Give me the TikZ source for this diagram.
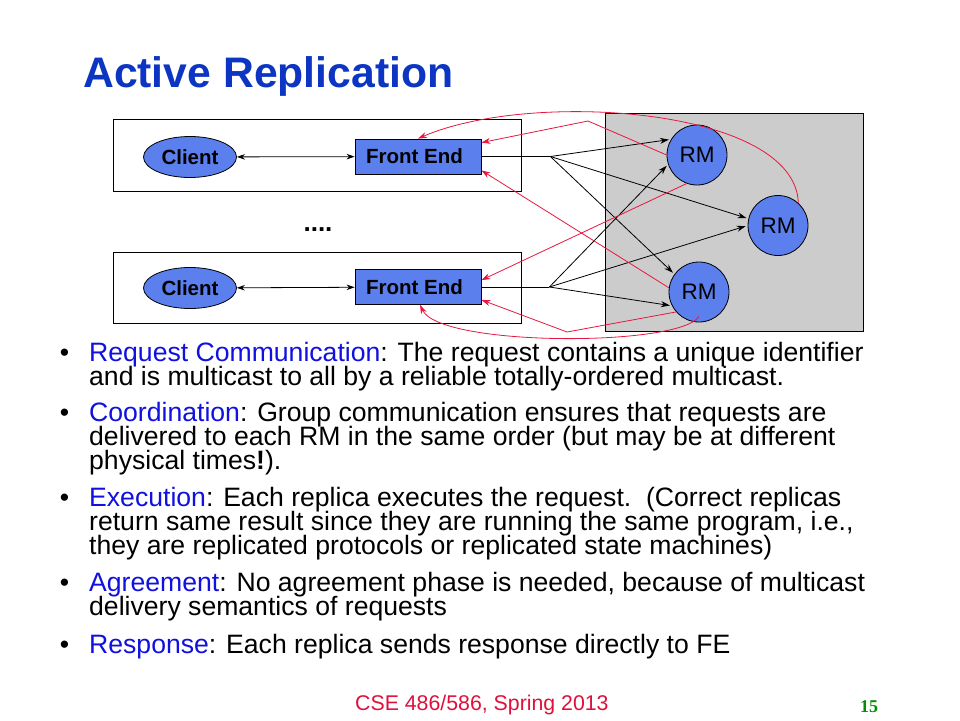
\documentclass[tikz,border=0pt]{standalone}
\usepackage{fontspec}
\setmainfont{Liberation Sans}
\newfontfamily\pagenumfont{Liberation Serif}
\usetikzlibrary{shapes.geometric,arrows.meta}
\definecolor{titleblue}{HTML}{0B35C2}
\definecolor{termblue}{HTML}{1010E0}
\definecolor{nodeblue}{HTML}{5B80EE}
\definecolor{respred}{HTML}{E8173F}
\definecolor{panelgray}{HTML}{CCCCCC}
\definecolor{pagegreen}{HTML}{008F00}
\definecolor{footred}{HTML}{E0103C}
\begin{document}
\begin{tikzpicture}[x=1pt,y=-1pt,
  clientnode/.style={ellipse, draw, line width=0.8pt, fill=nodeblue, minimum width=93pt, minimum height=41pt, inner sep=0pt, font=\fontsize{20.5}{22}\selectfont\bfseries},
  fenode/.style={rectangle, draw, line width=0.8pt, fill=nodeblue, minimum width=126pt, minimum height=35pt, inner sep=0pt, font=\fontsize{20.5}{22}\selectfont\bfseries},
  rmnode/.style={circle, draw, line width=0.8pt, fill=nodeblue, minimum size=60pt, inner sep=0pt, font=\fontsize{22.5}{24}\selectfont},
  hostbox/.style={draw, line width=0.8pt, minimum width=408pt, inner sep=0pt},
  req/.style={-{Stealth[length=9pt,width=6pt]}, black, line width=0.8pt, shorten >=2pt},
  resp/.style={-{Stealth[length=9pt,width=6pt]}, respred, line width=0.8pt},
  bothtips/.style={{Stealth[length=8pt,width=5.5pt]}-{Stealth[length=8pt,width=5.5pt]}, line width=0.8pt},
  bodyline/.style={anchor=base west, inner sep=0pt, font=\fontsize{26.6}{24}\selectfont},
  bulletmark/.style={anchor=base, inner sep=0pt, font=\fontsize{26.6}{24}\selectfont}
]
\useasboundingbox (0,0) rectangle (960,720);
\fill[white] (0,0) rectangle (960,720);

% title
\node[anchor=base west, inner sep=0pt, text=titleblue, font=\fontsize{42.7}{44}\selectfont\bfseries] (title) at (83,87) {Active Replication};

% containers
\node[draw, line width=0.8pt, fill=panelgray, minimum width=258pt, minimum height=218pt, inner sep=0pt] (panel) at (734,222) {};
\node[hostbox, minimum height=72pt] (box1) at (317,155) {};
\node[hostbox, minimum height=71pt] (box2) at (317,287.5) {};

% nodes
\node[clientnode] (c1) at (190,157) {Client};
\node[clientnode] (c2) at (190,288) {Client};
\node[fenode] (fe1) at (418,156.5) {Front End\hspace*{7pt}};
\node[fenode] (fe2) at (418,287) {Front End\hspace*{7pt}};
\node[rmnode] (rm1) at (697,155) {RM};
\node[rmnode] (rm2) at (778,225.5) {RM};
\node[rmnode] (rm3) at (699,292) {RM};
\node[anchor=base, inner sep=0pt, font=\fontsize{26}{26}\selectfont\bfseries] (dots) at (318,231) {....};

% client <-> front end
\draw[bothtips] (c1) -- (fe1);
\draw[bothtips] (c2) -- (fe2);

% request multicast
\coordinate (s1) at ([xshift=69pt]fe1.east);
\coordinate (s2) at ([xshift=68pt]fe2.east);
\draw[line width=0.8pt] (fe1.east) -- (s1);
\draw[line width=0.8pt] (fe2.east) -- (s2);
\draw[req] (s1) -- (rm1.149);
\draw[req] (s1) -- (rm2.167);
\draw[req] (s1) -- (rm3.144);
\draw[req] (s2) -- (rm1.198);
\draw[req] (s2) -- (rm2.180);
\draw[req] (s2) -- (rm3.207);

% responses
\coordinate (p1) at (588,121);
\coordinate (p2) at (567,332);
\draw[resp] (rm2.48) .. controls (795,107) and (530,90) .. (fe1.north);
\draw[resp] (rm1.west) -- (p1) -- ([yshift=-4pt]fe1.north east);
\draw[resp] (rm3.172) -- ([yshift=4pt]fe1.south east);
\draw[resp] (rm1.250) -- ([yshift=-11pt]fe2.north east);
\draw[resp] (rm3.221) -- (p2) -- ([yshift=5pt]fe2.south east);
\draw[resp] ([yshift=6pt]rm3.south) .. controls (680,347) and (440,347) .. ([xshift=2pt]fe2.south);

% bullet text
\node[bulletmark] (b1) at (64.5,361) {\textbullet};
\node[bodyline] (t1) at (89,361) {\textcolor{termblue}{Request Communication}: The request contains a unique identifier};
\node[bodyline] (t2) at (89,385) {and is multicast to all by a reliable totally-ordered multicast.};
\node[bulletmark] (b2) at (64.5,421) {\textbullet};
\node[bodyline] (t3) at (89,421) {\textcolor{termblue}{Coordination}: Group communication ensures that requests are};
\node[bodyline] (t4) at (89,445) {delivered to each RM in the same order (but may be at different};
\node[bodyline] (t5) at (89,469) {physical times\textbf{!}).};
\node[bulletmark] (b3) at (64.5,506) {\textbullet};
\node[bodyline] (t6) at (89,506) {\textcolor{termblue}{Execution}: Each replica executes the request.\ \ (Correct replicas};
\node[bodyline] (t7) at (89,530) {return same result since they are running the same program, i.e.,};
\node[bodyline] (t8) at (89,554) {they are replicated protocols or replicated state machines)};
\node[bulletmark] (b4) at (64.5,591) {\textbullet};
\node[bodyline] (t9) at (89,591) {\textcolor{termblue}{Agreement}: No agreement phase is needed, because of multicast};
\node[bodyline] (t10) at (89,615) {delivery semantics of requests};
\node[bulletmark] (b5) at (64.5,653) {\textbullet};
\node[bodyline] (t11) at (89,653) {\textcolor{termblue}{Response}: Each replica sends response directly to FE};

% footer
\node[anchor=base west, inner sep=0pt, text=footred, font=\fontsize{21.3}{22}\selectfont] (foot) at (355,710) {CSE 486/586, Spring 2013};
\node[anchor=base west, inner sep=0pt, text=pagegreen, font=\fontsize{18}{18}\selectfont\pagenumfont\bfseries] (pnum) at (860,712) {15};
\end{tikzpicture}
\end{document}
